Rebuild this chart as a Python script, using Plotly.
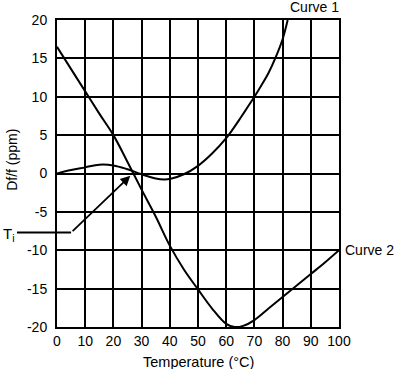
import plotly.graph_objects as go

# Curve 1 (cubic-like frequency drift)
curve1_x = [0, 5, 10, 15, 20, 25, 30, 35, 38, 40, 45, 50, 55, 60, 62.5, 65, 67.5, 70, 72.5, 75, 77.5, 80, 81.8]
curve1_y = [0, 0.45, 0.8, 1.15, 1.05, 0.55, -0.1, -0.65, -0.78, -0.72, -0.1, 1.0, 2.6, 4.6, 5.85, 7.2, 8.6, 10.0, 11.5, 13.1, 15.1, 17.5, 20]

# Curve 2
curve2_x = [0, 5, 10, 15, 20, 25, 30, 35, 40, 45, 50, 55, 60, 63, 66, 70, 75, 80, 85, 90, 95, 100]
curve2_y = [16.5, 13.6, 10.7, 7.8, 5.0, 1.5, -2.1, -5.6, -9.4, -12.5, -15.1, -17.6, -19.6, -20, -19.85, -19.1, -17.6, -16.1, -14.6, -13.1, -11.6, -10]

# Ti indicator (bend point and arrow tip)
ti_x = [5, 26]
ti_y = [-7.7, -0.3]
ti_start_paper = -0.142

x_ticks = [0, 10, 20, 30, 40, 50, 60, 70, 80, 90, 100]
y_ticks = [-20, -15, -10, -5, 0, 5, 10, 15, 20]

FONT = "Liberation Sans, Arial, Helvetica, sans-serif"

fig = go.Figure()
fig.add_trace(go.Scatter(x=curve1_x, y=curve1_y, mode="lines",
                         line=dict(color="black", width=2, shape="spline", smoothing=1.0),
                         showlegend=False, hoverinfo="skip"))
fig.add_trace(go.Scatter(x=curve2_x, y=curve2_y, mode="lines",
                         line=dict(color="black", width=2, shape="spline", smoothing=1.0),
                         showlegend=False, hoverinfo="skip"))

# Ti horizontal lead-in line (extends left of the plot)
fig.add_shape(type="line", xref="paper", yref="y",
              x0=ti_start_paper, x1=ti_x[0] / 100.0, y0=ti_y[0], y1=ti_y[0],
              line=dict(color="black", width=2))

# Ti diagonal arrow
fig.add_annotation(x=ti_x[1], y=ti_y[1], ax=ti_x[0], ay=ti_y[0],
                   xref="x", yref="y", axref="x", ayref="y",
                   text="", showarrow=True, arrowhead=2, arrowsize=1.1,
                   arrowwidth=1.8, arrowcolor="black", standoff=0)

# Ti label
fig.add_annotation(x=-0.197, y=ti_y[0], xref="paper", yref="y",
                   text="T<sub>i</sub>", showarrow=False, xanchor="left", yanchor="middle",
                   yshift=-2, font=dict(family=FONT, size=15, color="black"))

# Curve labels
fig.add_annotation(x=curve1_x[-1], y=curve1_y[-1], xref="x", yref="y",
                   text="Curve 1", showarrow=False, xanchor="left", yanchor="bottom",
                   yshift=3, font=dict(family=FONT, size=14, color="black"))
fig.add_annotation(x=curve2_x[-1], y=curve2_y[-1], xref="x", yref="y",
                   text="Curve 2", showarrow=False, xanchor="left", yanchor="middle",
                   xshift=4, font=dict(family=FONT, size=14, color="black"))

# Axis titles
fig.add_annotation(x=-0.16, y=0.544, xref="paper", yref="paper",
                   text="Df/f (ppm)", textangle=-90, showarrow=False,
                   xanchor="center", yanchor="middle",
                   font=dict(family=FONT, size=14, color="black"))
fig.add_annotation(x=0.5, y=-0.114, xref="paper", yref="paper",
                   text="Temperature (°C)", showarrow=False,
                   xanchor="center", yanchor="middle",
                   font=dict(family=FONT, size=14.5, color="black"))

axis_common = dict(showgrid=True, gridcolor="black", gridwidth=2,
                   showline=True, linecolor="black", linewidth=2, mirror=True,
                   zeroline=False, automargin=False,
                   tickfont=dict(family=FONT, size=14, color="black"))

fig.update_xaxes(range=[0, 100], tickvals=x_ticks, ticktext=[str(v) for v in x_ticks],
                 ticks="", **axis_common)
fig.update_yaxes(range=[-20, 20], tickvals=y_ticks, ticktext=[str(v) for v in y_ticks],
                 ticks="outside", ticklen=5, tickcolor="rgba(0,0,0,0)", **axis_common)

fig.update_layout(width=399, height=369,
                  margin=dict(l=57, r=60, t=20, b=42, autoexpand=False),
                  plot_bgcolor="white", paper_bgcolor="white",
                  font=dict(family=FONT, color="black"))

fig.write_html("out.html", config={"displayModeBar": False},
               post_script="document.body.style.margin='0px';")
